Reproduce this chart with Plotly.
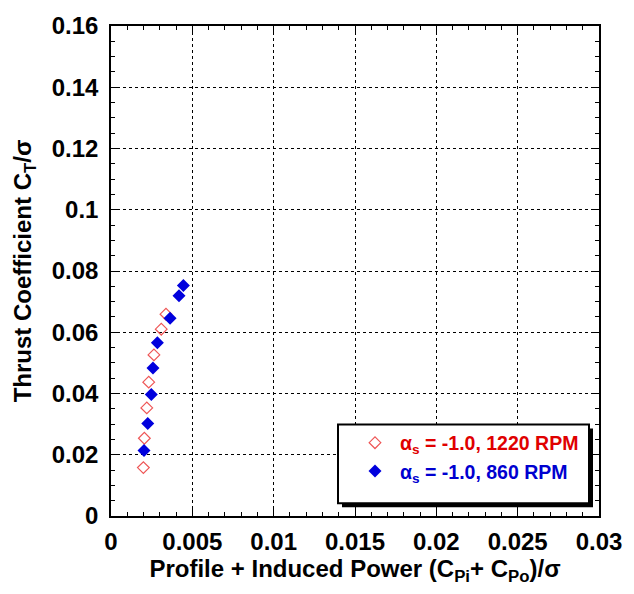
import plotly.graph_objects as go

# Data
x_1220 = [0.00199, 0.00205, 0.00220, 0.00232, 0.00264, 0.00309, 0.00338]
y_1220 = [0.0158, 0.0254, 0.0353, 0.0437, 0.0526, 0.0610, 0.0659]

x_860 = [0.00203, 0.00226, 0.00248, 0.00258, 0.00285, 0.00363, 0.00418, 0.00445]
y_860 = [0.0214, 0.0302, 0.0397, 0.0483, 0.0566, 0.0646, 0.0719, 0.0753]

name_1220 = "<span style='color:#e00000'><b>\u03b1<sub>s</sub> = -1.0, 1220 RPM</b></span>"
name_860 = "<span style='color:#0000d0'><b>\u03b1<sub>s</sub> = -1.0, 860 RPM</b></span>"

x_ticks = [0, 0.005, 0.01, 0.015, 0.02, 0.025, 0.03]
x_ticklabels = ["0", "0.005", "0.01", "0.015", "0.02", "0.025", "0.03"]
y_ticks = [0, 0.02, 0.04, 0.06, 0.08, 0.1, 0.12, 0.14, 0.16]
y_ticklabels = ["0", "0.02", "0.04", "0.06", "0.08", "0.1", "0.12", "0.14", "0.16"]

L, R, T, B = 111, 599, 18, 516
W, H = 634, 594
PW, PH = R - L, B - T


def px(xp):
    return (xp - L) / PW


def py(yp):
    return (B - yp) / PH


fig = go.Figure()
fig.add_trace(go.Scatter(
    x=x_1220, y=y_1220, mode="markers", name=name_1220,
    marker=dict(symbol="diamond-open", size=9, color="#ee5555", line=dict(width=1.2, color="#ee5555")),
))
fig.add_trace(go.Scatter(
    x=x_860, y=y_860, mode="markers", name=name_860,
    marker=dict(symbol="diamond", size=10, color="#0000dd", line=dict(width=0)),
))

font_family = "Liberation Sans, Arial, sans-serif"

axis_common = dict(
    showline=True, linecolor="black", linewidth=1.5, mirror="allticks",
    ticks="inside", ticklen=7, tickwidth=1, tickcolor="black",
    showgrid=True, gridcolor="black", griddash="dot", gridwidth=1.2,
    zeroline=False,
    tickfont=dict(family=font_family, size=24, color="black"),
)

fig.update_xaxes(
    range=[0, 0.03], tickvals=x_ticks, ticktext=["<b>%s</b>" % t for t in x_ticklabels],
    minor=dict(dtick=0.001, ticks="inside", ticklen=4, tickcolor="black", showgrid=False),
    title=dict(text="<b>Profile + Induced Power (C<sub>Pi</sub>+ C<sub>Po</sub>)/\u03c3</b>",
               font=dict(family=font_family, size=24, color="black"), standoff=2),
    ticklabelstandoff=3,
    **axis_common,
)
fig.update_yaxes(
    range=[0, 0.16], tickvals=y_ticks, ticktext=["<b>%s</b>" % t for t in y_ticklabels],
    minor=dict(dtick=0.005, ticks="inside", ticklen=4, tickcolor="black", showgrid=False),
    title=dict(text="<b>Thrust Coefficient C<sub>T</sub>/\u03c3</b>",
               font=dict(family=font_family, size=24, color="black"), standoff=13),
    ticklabelstandoff=6,
    **axis_common,
)

# legend box: shadow + white box with black border
fig.add_shape(type="rect", xref="paper", yref="paper",
              x0=px(342), x1=px(593), y0=py(507), y1=py(427),
              fillcolor="black", line=dict(width=0), layer="above")
fig.add_shape(type="rect", xref="paper", yref="paper",
              x0=px(338), x1=px(589), y0=py(503), y1=py(423),
              fillcolor="white", line=dict(width=2, color="black"), layer="above")

fig.update_layout(
    width=W, height=H,
    margin=dict(l=L, r=W - R, t=T, b=H - B),
    paper_bgcolor="white", plot_bgcolor="white",
    font=dict(family=font_family, color="black"),
    showlegend=True,
    legend=dict(
        x=px(350), y=py(422), xanchor="left", yanchor="top",
        bgcolor="rgba(0,0,0,0)", borderwidth=0,
        font=dict(family=font_family, size=19.5),
        itemsizing="trace", itemwidth=40, tracegroupgap=0,
    ),
)

fig.write_html("out.html")
